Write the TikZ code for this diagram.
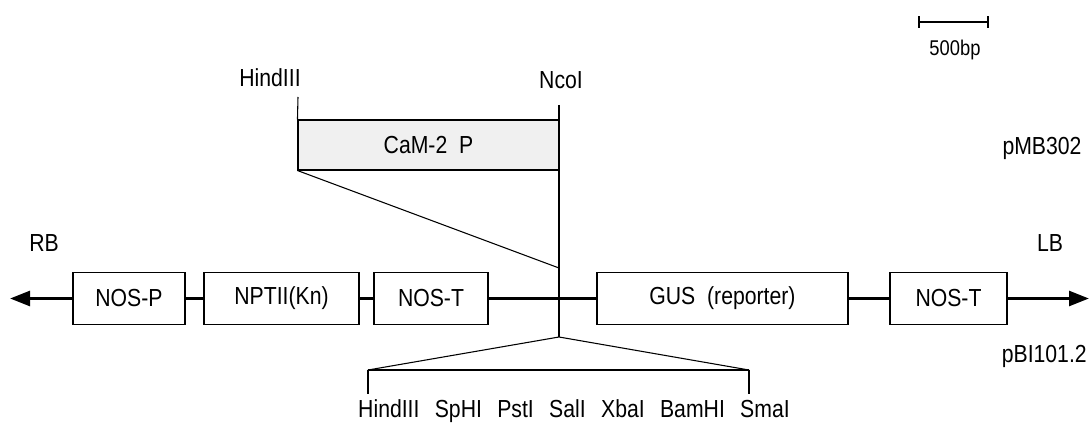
\documentclass[tikz,border=0pt]{standalone}
\usepackage{fontspec}
\setmainfont[FakeStretch=0.86]{Liberation Sans}
\usetikzlibrary{arrows.meta}
\newcommand{\sitegap}{\hspace{11.5pt}}
\begin{document}
\begin{tikzpicture}[x=0.75pt,y=-0.75pt,
  lbl/.style={inner sep=0pt,font=\fontsize{18.5}{22}\selectfont},
  gene/.style={draw,line width=0.8pt,minimum height=39pt,inner sep=0pt,
    font=\fontsize{18.5}{22}\selectfont},
  backbone/.style={line width=2.6pt},
  thin/.style={line width=0.8pt},
  endarrow/.style={-{Triangle[length=15pt,width=11pt]}}]
\useasboundingbox (0,0) rectangle (1090,431);

% scale bar
\coordinate (sbL) at (919,22);
\coordinate (sbR) at (988,22);
\draw[line width=1.6pt] (sbL) -- (sbR);
\draw[line width=1.6pt] ([yshift=-4.5pt]sbL) -- ([yshift=4.5pt]sbL);
\draw[line width=1.6pt] ([yshift=-4.5pt]sbR) -- ([yshift=4.5pt]sbR);
\node[lbl,font=\fontsize{16}{19}\selectfont] (sblbl) at (955,50) {500bp};

% promoter insert
\node[gene,fill=gray!12,minimum width=195.75pt,minimum height=37.5pt] (cam) at (428.5,145) {CaM-2\ \ P};
\node[lbl] (hind) at (270,78) {HindIII};
\node[lbl] (ncol) at (561,80) {NcoI};
\coordinate (hindTop) at (298,97);
\coordinate (ncolTop) at (559,105);
\coordinate (ncolBot) at (559,337);
\coordinate (diagEnd) at (559,268);
\draw[thin] (hindTop) -- (cam.north west);
\draw[thin] (cam.south west) -- (diagEnd);
\draw[thin] (ncolTop) -- (ncolBot);

% T-DNA genes
\node[gene,minimum width=84pt] (nosp) at (129,298.5) {NOS-P};
\node[gene,minimum width=116.25pt] (npt) at (281.5,298.5) {NPTII(Kn)};
\node[gene,minimum width=85.5pt] (nost1) at (431,298.5) {NOS-T};
\node[gene,minimum width=188.25pt] (gus) at (722.5,298.5) {GUS\ \ (reporter)};
\node[gene,minimum width=87.75pt] (nost2) at (948.5,298.5) {NOS-T};
\coordinate (leftEnd) at (10,298.5);
\coordinate (rightEnd) at (1089,298.5);

\draw[backbone,endarrow] (nosp.west) -- (leftEnd);
\draw[backbone] (nosp.east) -- (npt.west);
\draw[backbone] (npt.east) -- (nost1.west);
\draw[backbone] (nost1.east) -- (gus.west);
\draw[backbone] (gus.east) -- (nost2.west);
\draw[backbone,endarrow] (nost2.east) -- (rightEnd);

\node[lbl] (rb) at (44,243) {RB};
\node[lbl] (lb) at (1050,243) {LB};
\node[lbl] (pmb) at (1042,148) {pMB302};
\node[lbl,anchor=east] (pbi) at (1087,356) {pBI101.2};

% polylinker
\coordinate (fanL) at (368,370);
\coordinate (fanR) at (749,370);
\coordinate (tickL) at (368,394);
\coordinate (tickR) at (749,394);
\draw[thin] (fanL) -- (ncolBot) -- (fanR);
\draw[thin] (fanL) -- (fanR);
\draw[thin] (fanL) -- (tickL);
\draw[thin] (fanR) -- (tickR);
\node[lbl] (mcs) at (574,411) {HindIII\sitegap SpHI\sitegap PstI\sitegap SalI\sitegap XbaI\sitegap BamHI\sitegap SmaI};
\end{tikzpicture}
\end{document}
